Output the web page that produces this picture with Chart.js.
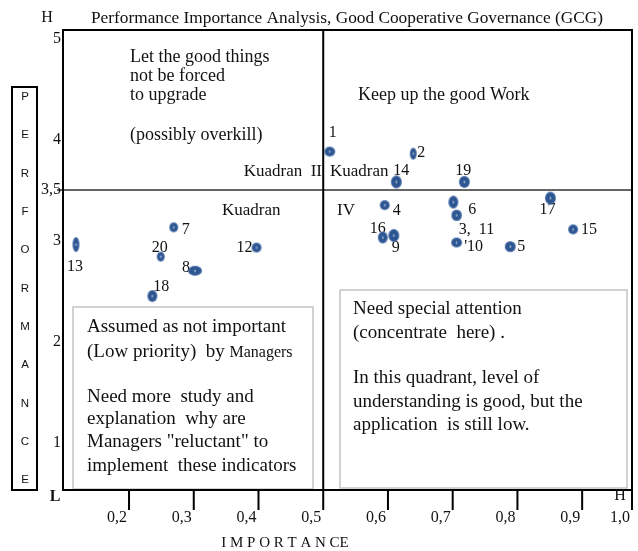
<!DOCTYPE html>
<html>
<head>
<meta charset="utf-8">
<title>Performance Importance Analysis, GCG</title>
<script src="https://cdn.jsdelivr.net/npm/chart.js@4/dist/chart.umd.min.js"></script>
<style>
    html, body { margin: 0; padding: 0; background: #ffffff; }
    #wrap { width: 638px; height: 551px; }
</style>
</head>
<body>
<div id="wrap"><canvas id="gcgChart" width="638" height="551"></canvas></div>
<script>
// GCG indicators, numbered 1..20
const indicators = ['1', '2', '3', '4', '5', '6', '7', '8', '9', '10',
                    '11', '12', '13', '14', '15', '16', '17', '18', '19', '20'];
const importance = [0.510, 0.639, 0.706, 0.595, 0.789, 0.701, 0.269, 0.302, 0.609, 0.706,
                    0.706, 0.397, 0.118, 0.613, 0.886, 0.592, 0.851, 0.236, 0.718, 0.249];
const performanceScore = [3.88, 3.86, 3.25, 3.35, 2.94, 3.38, 3.13, 2.70, 3.05, 2.98,
                          3.25, 2.93, 2.96, 3.58, 3.11, 3.03, 3.42, 2.45, 3.58, 2.84];
// text printed next to each point (3 and 11 share one spot)
const pointLabels = ['1', '2', '3,  11', '4', '5', '6', '7', '8', '9', "'10",
                     '', '12', '13', '14', '15', '16', '17', '18', '19', '20'];

const xTicks = [0.2, 0.3, 0.4, 0.5, 0.6, 0.7, 0.8, 0.9, 1.0];
const xTickLabels = ['0,2', '0,3', '0,4', '0,5', '0,6', '0,7', '0,8', '0,9', '1,0'];
const yTicks = [5, 4, 3.5, 3, 2, 1];
const yTickLabels = ['5', '4', '3,5', '3', '2', '1'];
const importanceCut = 0.5;
const performanceCut = 3.5;

// label placement (px from the point) and dot shape (w, h) for each indicator
const labelOffsets = [[3, -19], [8, -1], [20, 15], [12, 6], [11, 0], [19, 8], [12, 2], [-9, -3], [2, 12], [17, 4],
                      [0, 0], [-12, 0], [-1, 22], [5, -11], [16, 0], [-5, -9], [-3, 12], [9, -9], [-1, -11], [-1, -9]];
const dotSizes = [[11, 10], [7, 12], [10, 11], [10, 10], [11, 11], [10, 13], [9, 10], [14, 10], [11, 13], [11, 10],
                  [10, 11], [10, 10], [7, 15], [11, 13], [10, 10], [10, 12], [11, 13], [10, 12], [11, 12], [8, 10]];

const SERIF = '"Liberation Serif", "Times New Roman", serif';
const SANS = '"Liberation Sans", Arial, sans-serif';

function makeDot(w, h) {
    const c = document.createElement('canvas');
    c.width = w + 2;
    c.height = h + 2;
    const g = c.getContext('2d');
    const cx = c.width / 2, cy = c.height / 2;
    g.fillStyle = '#4f74aa';
    g.beginPath();
    g.ellipse(cx, cy, w / 2, h / 2, 0, 0, Math.PI * 2);
    g.fill();
    g.fillStyle = '#2d5590';
    g.beginPath();
    g.ellipse(cx, cy, w / 2 - 1, h / 2 - 1, 0, 0, Math.PI * 2);
    g.fill();
    g.fillStyle = '#93acd0';
    g.beginPath();
    g.ellipse(cx, cy, 0.9, Math.min(1.6, h / 6), 0, 0, Math.PI * 2);
    g.fill();
    return c;
}

function text(ctx, s, x, y, font, align) {
    ctx.font = font;
    ctx.textAlign = align || 'left';
    ctx.textBaseline = 'middle';
    ctx.fillText(s, x, y);
}

const decorPlugin = {
    id: 'gcgDecor',
    beforeDatasetsDraw(chart) {
        const ctx = chart.ctx;
        const area = chart.chartArea;
        const xs = chart.scales.x;
        const ys = chart.scales.y;
        ctx.save();
        ctx.fillStyle = '#111';

        // title line
        text(ctx, 'H', 47, 18, '16px ' + SERIF, 'center');
        text(ctx, 'Performance Importance Analysis, Good Cooperative Governance (GCG)', 91, 18, '17.3px ' + SERIF);

        // quadrant note boxes
        ctx.strokeStyle = '#c4c4c4';
        ctx.lineWidth = 1.5;
        ctx.strokeRect(73, 307, 240, 182);
        ctx.strokeRect(340, 290, 287, 198);

        // cut lines
        const xCut = xs.getPixelForValue(importanceCut);
        const yCut = ys.getPixelForValue(performanceCut);
        ctx.strokeStyle = '#333';
        ctx.lineWidth = 1.5;
        ctx.beginPath();
        ctx.moveTo(area.left - 6, yCut);
        ctx.lineTo(area.right, yCut);
        ctx.stroke();

        ctx.strokeStyle = '#000';
        ctx.lineWidth = 2;
        ctx.strokeRect(area.left, area.top, area.right - area.left, area.bottom - area.top);

        // x ticks, the 0,5 tick continues the vertical cut line
        ctx.beginPath();
        ctx.moveTo(xCut, area.top);
        ctx.lineTo(xCut, area.bottom + 20);
        xTicks.forEach(v => {
            const px = Math.min(xs.getPixelForValue(v), area.right);
            ctx.moveTo(px, area.bottom);
            ctx.lineTo(px, area.bottom + 20);
        });
        ctx.stroke();

        xTicks.forEach((v, i) => {
            const px = Math.min(xs.getPixelForValue(v), area.right);
            text(ctx, xTickLabels[i], px - 12, area.bottom + 28, '16px ' + SERIF, 'center');
        });
        yTicks.forEach((v, i) => {
            text(ctx, yTickLabels[i], area.left - 2, ys.getPixelForValue(v), '16px ' + SERIF, 'right');
        });
        text(ctx, 'L', 55, area.bottom + 7, 'bold 16px ' + SERIF, 'center');
        text(ctx, 'H', area.right - 12, area.bottom + 6, '16px ' + SERIF, 'center');
        text(ctx, 'I M P O R T A N CE', 285, 543, '15px ' + SERIF, 'center');

        // vertical axis title box
        ctx.strokeRect(12, 87, 25, area.bottom - 87);
        'PERFORMANCE'.split('').forEach((ch, i) => {
            text(ctx, ch, 25, 97 + i * 38.3, '11.5px ' + SANS, 'center');
        });

        // quadrant texts
        const big = '18px ' + SERIF;
        text(ctx, 'Let the good things', 130, 57, big);
        text(ctx, 'not be forced', 130, 76, big);
        text(ctx, 'to upgrade', 130, 95, big);
        text(ctx, '(possibly overkill)', 130, 135, big);
        text(ctx, 'Keep up the good Work', 358, 95, big);
        text(ctx, 'Kuadran  II', 322, 172, '17px ' + SERIF, 'right');
        text(ctx, 'Kuadran', 330, 172, '17px ' + SERIF);
        text(ctx, 'Kuadran', 222, 211, '17px ' + SERIF);
        text(ctx, 'IV', 337, 211, '17px ' + SERIF);

        const box = '19px ' + SERIF;
        text(ctx, 'Assumed as not important', 87, 327, box);
        text(ctx, '(Low priority)  by ', 87, 352, box);
        ctx.font = box;
        const lw = ctx.measureText('(Low priority)  by ').width;
        text(ctx, 'Managers', 87 + lw, 353, '16px ' + SERIF);
        text(ctx, 'Need more  study and', 87, 397, box);
        text(ctx, 'explanation  why are', 87, 419, box);
        text(ctx, 'Managers "reluctant" to', 87, 442, box);
        text(ctx, 'implement  these indicators', 87, 466, box);

        text(ctx, 'Need special attention', 353, 309, box);
        text(ctx, '(concentrate  here) .', 353, 333, box);
        text(ctx, 'In this quadrant, level of', 353, 378, box);
        text(ctx, 'understanding is good, but the', 353, 402, box);
        text(ctx, 'application  is still low.', 353, 425, box);

        // point numbers
        const meta = chart.getDatasetMeta(0);
        meta.data.forEach((pt, i) => {
            if (!pointLabels[i]) return;
            const [dx, dy] = labelOffsets[i];
            text(ctx, pointLabels[i], pt.x + dx, pt.y + dy, '16px ' + SERIF, 'center');
        });
        ctx.restore();
    }
};

const points = indicators.map((id, i) => ({ x: importance[i], y: performanceScore[i] }));
const dotImages = dotSizes.map(s => makeDot(s[0], s[1]));

new Chart(document.getElementById('gcgChart'), {
    type: 'scatter',
    data: {
        datasets: [{
            label: 'Indicators',
            data: points,
            pointStyle: dotImages,
            pointRadius: 5,
            pointHoverRadius: 5
        }]
    },
    options: {
        responsive: false,
        animation: false,
        layout: { padding: { left: 63, top: 30, right: 5, bottom: 61 } },
        plugins: {
            legend: { display: false },
            tooltip: { enabled: false },
            title: { display: false }
        },
        scales: {
            x: { type: 'linear', min: 0.098, max: 0.977, display: false },
            y: { type: 'linear', min: 0.53, max: 5.084, display: false }
        }
    },
    plugins: [decorPlugin]
});
</script>
</body>
</html>
